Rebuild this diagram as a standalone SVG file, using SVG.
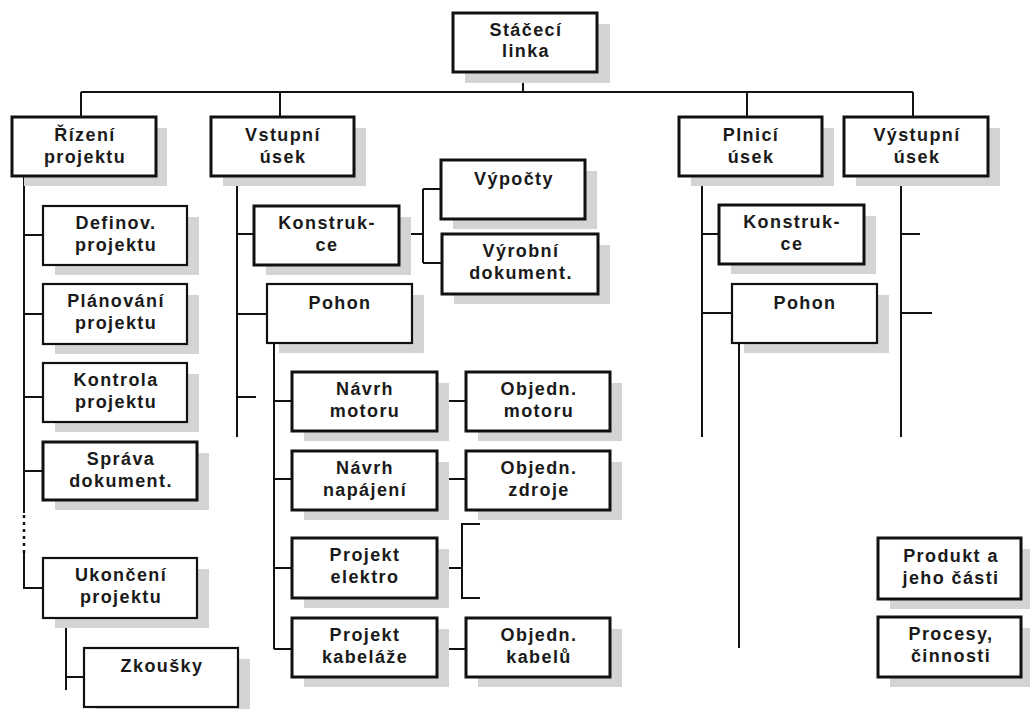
<svg xmlns="http://www.w3.org/2000/svg" width="1030" height="709" viewBox="0 0 1030 709">
<style>
.bg{fill:#ffffff}
.sh{fill:#d4d4d4}
.b{fill:#ffffff;stroke:#111;stroke-width:3}
.t{fill:#ffffff;stroke:#111;stroke-width:2.2}
.tx{font-family:"Liberation Sans",Arial,sans-serif;font-weight:bold;font-size:18px;letter-spacing:1.4px;fill:#1a1a1a;text-anchor:middle}
.c{fill:none;stroke:#111;stroke-width:2}
.d{fill:none;stroke:#111;stroke-width:2.5;stroke-dasharray:3 4}
</style>
<rect class="bg" x="0" y="0" width="1030" height="709"/>
<g id="connectors">
<path class="c" d="M523,72V92M81,92H913M81,92V117M280,92V117M747,92V117M913,92V117"/>
<path class="c" d="M24,176V513M24,553V588H43M24,235H43M24,314H43M24,397H43M24,471H43"/>
<path class="d" d="M24,515V553"/>
<path class="c" d="M66,618V690M66,677H84"/>
<path class="c" d="M237,176V437M237,234H254M237,314H267M237,397H256"/>
<path class="c" d="M399,234H423M423,189V263M423,189H441M423,263H442"/>
<path class="c" d="M274,343V649M274,401H292M274,479H292M274,568H292M274,649H292"/>
<path class="c" d="M437,401H466M437,479H466M437,649H466"/>
<path class="c" d="M437,568H462M480,524H462V598H480"/>
<path class="c" d="M702,176V437M702,234H719M702,313H732M739,343V648"/>
<path class="c" d="M901,176V437M901,234H920M901,313H932"/>
</g>
<g id="n-staceci"><rect class="sh" x="465" y="24" width="145" height="59"/><rect class="b" x="453" y="13" width="144" height="59"/><text class="tx" x="526" y="36">Stáčecí</text><text class="tx" x="526" y="57">linka</text></g>
<g id="n-rizeni"><rect class="sh" x="24" y="128" width="143" height="58"/><rect class="b" x="12" y="117" width="144" height="59"/><text class="tx" x="85" y="141">Řízení</text><text class="tx" x="85" y="163">projektu</text></g>
<g id="n-vstupni"><rect class="sh" x="223" y="128" width="143" height="58"/><rect class="b" x="211" y="117" width="143" height="59"/><text class="tx" x="283" y="141">Vstupní</text><text class="tx" x="283" y="163">úsek</text></g>
<g id="n-plnici"><rect class="sh" x="691" y="128" width="143" height="58"/><rect class="b" x="679" y="117" width="143" height="59"/><text class="tx" x="751" y="141">Plnicí</text><text class="tx" x="751" y="163">úsek</text></g>
<g id="n-vystupni"><rect class="sh" x="856" y="128" width="144" height="58"/><rect class="b" x="844" y="117" width="144" height="59"/><text class="tx" x="917" y="141">Výstupní</text><text class="tx" x="917" y="163">úsek</text></g>
<g id="n-definov"><rect class="sh" x="55" y="217" width="144" height="58"/><rect class="t" x="43" y="206" width="144" height="59"/><text class="tx" x="116" y="229">Definov.</text><text class="tx" x="116" y="251">projektu</text></g>
<g id="n-planovani"><rect class="sh" x="55" y="295" width="144" height="59"/><rect class="t" x="43" y="284" width="144" height="60"/><text class="tx" x="116" y="307">Plánování</text><text class="tx" x="116" y="329">projektu</text></g>
<g id="n-kontrola"><rect class="sh" x="55" y="374" width="144" height="58"/><rect class="t" x="43" y="363" width="144" height="59"/><text class="tx" x="116" y="386">Kontrola</text><text class="tx" x="116" y="408">projektu</text></g>
<g id="n-sprava"><rect class="sh" x="55" y="453" width="154" height="57"/><rect class="b" x="43" y="442" width="154" height="58"/><text class="tx" x="121" y="465">Správa</text><text class="tx" x="121" y="487">dokument.</text></g>
<g id="n-ukonceni"><rect class="sh" x="55" y="569" width="154" height="59"/><rect class="t" x="43" y="558" width="154" height="60"/><text class="tx" x="121" y="581">Ukončení</text><text class="tx" x="121" y="603">projektu</text></g>
<g id="n-zkousky"><rect class="sh" x="96" y="659" width="154" height="58"/><rect class="t" x="84" y="648" width="154" height="59"/><text class="tx" x="162" y="672">Zkoušky</text></g>
<g id="n-konstrukce-l"><rect class="sh" x="266" y="217" width="145" height="58"/><rect class="b" x="254" y="206" width="145" height="59"/><text class="tx" x="327" y="229">Konstruk-</text><text class="tx" x="327" y="251">ce</text></g>
<g id="n-pohon-l"><rect class="sh" x="279" y="295" width="145" height="58"/><rect class="t" x="267" y="284" width="145" height="59"/><text class="tx" x="340" y="309">Pohon</text></g>
<g id="n-vypocty"><rect class="sh" x="453" y="171" width="144" height="58"/><rect class="b" x="441" y="160" width="144" height="59"/><text class="tx" x="514" y="185">Výpočty</text></g>
<g id="n-vyrobni"><rect class="sh" x="454" y="245" width="156" height="59"/><rect class="b" x="442" y="234" width="156" height="60"/><text class="tx" x="521" y="257">Výrobní</text><text class="tx" x="521" y="279">dokument.</text></g>
<g id="n-navrh-motoru"><rect class="sh" x="304" y="383" width="145" height="58"/><rect class="b" x="292" y="372" width="145" height="59"/><text class="tx" x="365" y="395">Návrh</text><text class="tx" x="365" y="417">motoru</text></g>
<g id="n-obj-motoru"><rect class="sh" x="478" y="383" width="144" height="58"/><rect class="b" x="466" y="372" width="144" height="59"/><text class="tx" x="539" y="395">Objedn.</text><text class="tx" x="539" y="417">motoru</text></g>
<g id="n-navrh-napajeni"><rect class="sh" x="304" y="462" width="145" height="58"/><rect class="b" x="292" y="451" width="145" height="59"/><text class="tx" x="365" y="474">Návrh</text><text class="tx" x="365" y="496">napájení</text></g>
<g id="n-obj-zdroje"><rect class="sh" x="478" y="462" width="144" height="58"/><rect class="b" x="466" y="451" width="144" height="59"/><text class="tx" x="539" y="474">Objedn.</text><text class="tx" x="539" y="496">zdroje</text></g>
<g id="n-projekt-elektro"><rect class="sh" x="304" y="549" width="145" height="59"/><rect class="b" x="292" y="538" width="145" height="60"/><text class="tx" x="365" y="561">Projekt</text><text class="tx" x="365" y="583">elektro</text></g>
<g id="n-projekt-kabelaze"><rect class="sh" x="304" y="629" width="145" height="58"/><rect class="b" x="292" y="618" width="145" height="59"/><text class="tx" x="365" y="641">Projekt</text><text class="tx" x="365" y="663">kabeláže</text></g>
<g id="n-obj-kabelu"><rect class="sh" x="478" y="629" width="144" height="58"/><rect class="b" x="466" y="618" width="144" height="59"/><text class="tx" x="539" y="641">Objedn.</text><text class="tx" x="539" y="663">kabelů</text></g>
<g id="n-konstrukce-r"><rect class="sh" x="731" y="216" width="145" height="58"/><rect class="b" x="719" y="205" width="145" height="59"/><text class="tx" x="792" y="228">Konstruk-</text><text class="tx" x="792" y="250">ce</text></g>
<g id="n-pohon-r"><rect class="sh" x="744" y="295" width="145" height="58"/><rect class="t" x="732" y="284" width="145" height="59"/><text class="tx" x="805" y="309">Pohon</text></g>
<g id="n-produkt"><rect class="sh" x="890" y="549" width="143" height="60"/><rect class="b" x="878" y="538" width="143" height="61"/><text class="tx" x="951" y="562">Produkt a</text><text class="tx" x="951" y="584">jeho části</text></g>
<g id="n-procesy"><rect class="sh" x="890" y="628" width="143" height="59"/><rect class="b" x="878" y="617" width="143" height="60"/><text class="tx" x="951" y="640">Procesy,</text><text class="tx" x="951" y="662">činnosti</text></g>
</svg>
